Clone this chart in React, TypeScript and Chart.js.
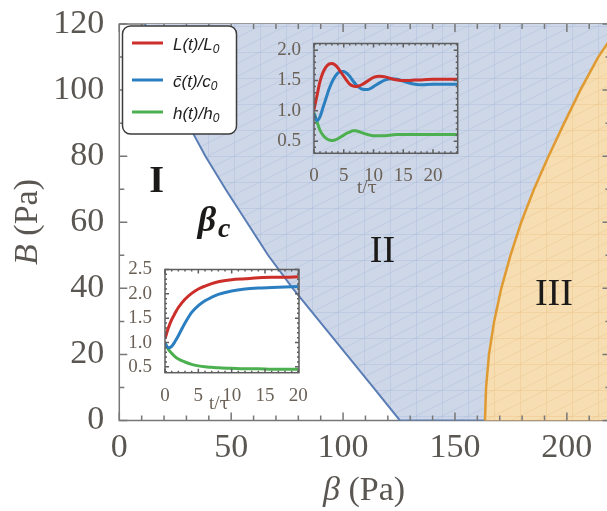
import React, { useEffect, useRef } from 'react';
import { Chart, registerables } from 'chart.js';

Chart.register(...registerables);

// ---------- main phase diagram ----------
const B_LEVELS = [0, 10, 20, 30, 40, 50, 60, 70, 80, 90, 100, 110, 120];
// beta_c boundary (region I | region II)
const BETA_C = [125.4, 113.5, 101.5, 89.5, 77.5, 66.5, 57, 47.5, 38.5, 30.5, 23.5, 17.5, 11.5];
// region II | region III boundary
const BETA_III = [163.4, 163.9, 165.2, 167.5, 170.7, 174.8, 179.6, 185.3, 191.8, 198.8, 206, 214, 224];
const BETA_FAR = 245;
const X_TICKS = [0, 50, 100, 150, 200];
const Y_TICKS = [0, 20, 40, 60, 80, 100, 120];
const REGION_TEXT = ['I', 'II', 'III'];
const REGION_AT = [[16.7, 72.1], [117.6, 51], [194.2, 37.9]];
const BETA_C_LABEL_AT = [41.9, 60.2];

// ---------- upper inset: damped oscillation ----------
const T_OSC = [0, 0.5, 1, 1.5, 2, 2.5, 3, 3.5, 4, 4.5, 5, 5.5, 6, 6.5, 7, 7.5, 8, 9, 10, 11, 12, 13, 14, 15, 16, 17, 18, 20, 22, 24.2];
const L_OSC = [1.02, 1.25, 1.48, 1.63, 1.72, 1.77, 1.78, 1.76, 1.71, 1.64, 1.57, 1.5, 1.44, 1.41, 1.4, 1.41, 1.43, 1.49, 1.55, 1.57, 1.56, 1.53, 1.51, 1.5, 1.5, 1.51, 1.51, 1.52, 1.52, 1.52];
const C_OSC = [0.95, 0.84, 0.9, 1.05, 1.2, 1.35, 1.47, 1.56, 1.62, 1.65, 1.65, 1.62, 1.57, 1.5, 1.44, 1.39, 1.36, 1.35, 1.4, 1.46, 1.51, 1.53, 1.52, 1.49, 1.46, 1.44, 1.43, 1.44, 1.44, 1.44];
const H_OSC = [0.97, 0.82, 0.68, 0.6, 0.55, 0.52, 0.51, 0.52, 0.54, 0.57, 0.6, 0.63, 0.65, 0.67, 0.67, 0.66, 0.64, 0.61, 0.59, 0.59, 0.59, 0.6, 0.61, 0.61, 0.61, 0.61, 0.61, 0.61, 0.61, 0.61];
const OSC_X_TICKS = [0, 5, 10, 15, 20];
const OSC_Y_TICKS = [0.5, 1.0, 1.5, 2.0];

// ---------- lower inset: monotone relaxation ----------
const T_MONO = [0, 0.5, 1, 1.5, 2, 3, 4, 5, 6, 7, 8, 10, 12, 14, 16, 18, 20];
const L_MONO = [1.08, 1.3, 1.47, 1.6, 1.72, 1.89, 2.01, 2.1, 2.16, 2.21, 2.25, 2.29, 2.31, 2.33, 2.34, 2.34, 2.35];
const C_MONO = [0.98, 0.89, 0.92, 1.02, 1.14, 1.4, 1.62, 1.76, 1.86, 1.93, 1.99, 2.06, 2.1, 2.12, 2.13, 2.14, 2.15];
const H_MONO = [0.98, 0.86, 0.78, 0.71, 0.66, 0.6, 0.55, 0.52, 0.5, 0.49, 0.48, 0.47, 0.46, 0.46, 0.45, 0.45, 0.45];
const MONO_X_TICKS = [0, 5, 10, 15, 20];
const MONO_Y_TICKS = [0.5, 1.0, 1.5, 2.0, 2.5];

const LEGEND_TEXT = [['L(t)/L', '0'], ['c\u0304(t)/c', '0'], ['h(t)/h', '0']];

const RED = '#cc2f2a';
const BLUE = '#2b7fc1';
const GREEN = '#4cb050';
const SERIES_COLORS = [RED, BLUE, GREEN];
const SERIF = "'Liberation Serif', 'DejaVu Serif', serif";
const GREEK_SERIF = "'DejaVu Serif', serif";
const SANS = "'Liberation Sans', 'DejaVu Sans', sans-serif";
const TICK_COLOR = '#5a5652';
const INSET_TICK_COLOR = '#6b6157';

function makePattern(bg: string, line: string) {
  const c = document.createElement('canvas');
  c.width = 26;
  c.height = 26;
  const g = c.getContext('2d')!;
  g.fillStyle = bg;
  g.fillRect(0, 0, 26, 26);
  g.strokeStyle = line;
  g.lineWidth = 0.7;
  g.beginPath();
  g.moveTo(0.5, 0); g.lineTo(0.5, 26);
  g.moveTo(0, 0.5); g.lineTo(26, 0.5);
  g.moveTo(0, 26); g.lineTo(26, 13);
  g.moveTo(0, 13); g.lineTo(26, 0);
  g.stroke();
  return g.createPattern(c, 'repeat')!;
}

type FrameCfg = {
  color: string; width: number;
  xMinor: number; xMajor: number; yMinor: number; yMajor: number;
  majorLen: number; minorLen: number; lineFirst?: boolean;
};

let pluginCounter = 0;
function framePlugin(cfg: FrameCfg) {
  const drawLines = (chart: any) => {
    const { ctx, chartArea: a } = chart;
    ctx.save();
    ctx.strokeStyle = cfg.color;
    ctx.lineWidth = cfg.width;
    ctx.strokeRect(a.left, a.top, a.right - a.left, a.bottom - a.top);
    ctx.restore();
  };
  const isMajor = (v: number, m: number) => Math.abs(v / m - Math.round(v / m)) < 1e-6;
  return {
    id: 'frame' + pluginCounter++,
    beforeDatasetsDraw(chart: any) {
      if (cfg.lineFirst) drawLines(chart);
    },
    afterDatasetsDraw(chart: any) {
      if (!cfg.lineFirst) drawLines(chart);
      const { ctx, chartArea: a, scales } = chart;
      const xs = scales.x;
      const ys = scales.y;
      ctx.save();
      ctx.strokeStyle = cfg.color;
      ctx.lineWidth = cfg.width;
      ctx.beginPath();
      for (let k = Math.ceil(xs.min / cfg.xMinor - 1e-6); k * cfg.xMinor <= xs.max + 1e-6; k++) {
        const v = k * cfg.xMinor;
        const len = isMajor(v, cfg.xMajor) ? cfg.majorLen : cfg.minorLen;
        const px = xs.getPixelForValue(v);
        ctx.moveTo(px, a.bottom); ctx.lineTo(px, a.bottom - len);
        ctx.moveTo(px, a.top); ctx.lineTo(px, a.top + len);
      }
      for (let k = Math.ceil(ys.min / cfg.yMinor - 1e-6); k * cfg.yMinor <= ys.max + 1e-6; k++) {
        const v = k * cfg.yMinor;
        const len = isMajor(v, cfg.yMajor) ? cfg.majorLen : cfg.minorLen;
        const py = ys.getPixelForValue(v);
        ctx.moveTo(a.left, py); ctx.lineTo(a.left + len, py);
        ctx.moveTo(a.right, py); ctx.lineTo(a.right - len, py);
      }
      ctx.stroke();
      ctx.restore();
    },
  };
}

const mainTextPlugin = {
  id: 'mainText',
  afterDatasetsDraw(chart: any) {
    const { ctx, scales } = chart;
    const xs = scales.x;
    const ys = scales.y;
    ctx.save();
    ctx.fillStyle = '#1c1a18';
    ctx.textBaseline = 'middle';
    ctx.textAlign = 'center';
    REGION_TEXT.forEach((t, i) => {
      ctx.font = (i === 0 ? 'bold ' : '') + '38px ' + SERIF;
      ctx.fillText(t, xs.getPixelForValue(REGION_AT[i][0]), ys.getPixelForValue(REGION_AT[i][1]));
    });
    // beta_c
    const bx = xs.getPixelForValue(BETA_C_LABEL_AT[0]);
    const by = ys.getPixelForValue(BETA_C_LABEL_AT[1]);
    ctx.font = 'italic bold 36px ' + SERIF;
    const wb = ctx.measureText('\u03b2').width;
    ctx.font = 'italic bold 28px ' + SERIF;
    const wc = ctx.measureText('c').width;
    const start = bx - (wb + wc) / 2 + 4;
    ctx.textAlign = 'left';
    ctx.font = 'italic bold 36px ' + SERIF;
    ctx.fillText('\u03b2', start - 4, by);
    ctx.font = 'italic bold 28px ' + SERIF;
    ctx.fillText('c', start + wb - 2, by + 8);
    ctx.restore();
  },
  afterDraw(chart: any) {
    const { ctx } = chart;
    ctx.save();
    ctx.fillStyle = TICK_COLOR;
    ctx.textBaseline = 'middle';
    // x title
    ctx.font = 'italic 34px ' + SERIF;
    const w1 = ctx.measureText('\u03b2').width;
    ctx.font = '34px ' + SERIF;
    const w2 = ctx.measureText(' (Pa)').width;
    let sx = 364 - (w1 + w2) / 2;
    ctx.textAlign = 'left';
    ctx.font = 'italic 34px ' + SERIF;
    ctx.fillText('\u03b2', sx, 491);
    ctx.font = '34px ' + SERIF;
    ctx.fillText(' (Pa)', sx + w1, 491);
    // y title
    ctx.translate(28, 222);
    ctx.rotate(-Math.PI / 2);
    ctx.font = 'italic 34px ' + SERIF;
    const w3 = ctx.measureText('B').width;
    ctx.font = '34px ' + SERIF;
    const w4 = ctx.measureText(' (Pa)').width;
    sx = -(w3 + w4) / 2;
    ctx.font = 'italic 34px ' + SERIF;
    ctx.fillText('B', sx, 0);
    ctx.font = '34px ' + SERIF;
    ctx.fillText(' (Pa)', sx + w3, 0);
    ctx.restore();

    // legend box
    ctx.save();
    ctx.beginPath();
    (ctx as any).roundRect(122.5, 26, 114, 108, 8);
    ctx.fillStyle = '#ffffff';
    ctx.fill();
    ctx.lineWidth = 1.5;
    ctx.strokeStyle = '#3c3c3c';
    ctx.stroke();
    const rows = [43, 80, 112];
    LEGEND_TEXT.forEach((parts, i) => {
      const y = rows[i];
      ctx.strokeStyle = SERIES_COLORS[i];
      ctx.lineWidth = 3;
      ctx.beginPath();
      ctx.moveTo(132, y);
      ctx.lineTo(163, y);
      ctx.stroke();
      ctx.fillStyle = '#222222';
      ctx.textBaseline = 'alphabetic';
      ctx.textAlign = 'left';
      ctx.font = 'italic 17px ' + SANS;
      ctx.fillText(parts[0], 173, y + 6.5);
      const w = ctx.measureText(parts[0]).width;
      ctx.font = 'italic 12px ' + SANS;
      ctx.fillText(parts[1], 173 + w, y + 10);
    });
    ctx.restore();
  },
};

function buildMain(canvas: HTMLCanvasElement) {
  const blueFill = makePattern('rgb(205,215,232)', 'rgba(160,180,216,0.45)');
  const orangeFill = makePattern('rgb(247,222,178)', 'rgba(232,192,125,0.5)');
  const blueRegion = B_LEVELS.map((b, i) => ({ x: BETA_C[i], y: b })).reverse();
  blueRegion.push({ x: BETA_III[0], y: 0 }, { x: BETA_FAR, y: 0 });
  const orangeRegion = B_LEVELS.map((b, i) => ({ x: BETA_III[i], y: b }));
  orangeRegion.push({ x: BETA_FAR, y: B_LEVELS[B_LEVELS.length - 1] });
  const top = B_LEVELS[B_LEVELS.length - 1];
  const tickFont = { family: SERIF, size: 34, lineHeight: 1 };
  return new Chart(canvas, {
    type: 'line',
    data: {
      datasets: [
        { data: orangeRegion, fill: 'start', backgroundColor: orangeFill, borderColor: '#e09a32', borderWidth: 2.5, pointRadius: 0, tension: 0 },
        { data: [{ x: BETA_III[0], y: 0 }, { x: BETA_FAR, y: 0 }], fill: false, borderColor: '#e09a32', borderWidth: 2.5, pointRadius: 0 },
        { data: blueRegion, fill: 'end', backgroundColor: blueFill, borderColor: '#5a7db6', borderWidth: 2, pointRadius: 0, tension: 0 },
        { data: [{ x: BETA_C[BETA_C.length - 1], y: top }, { x: BETA_FAR, y: top }], fill: false, borderColor: '#5a7db6', borderWidth: 2.5, pointRadius: 0 },
      ] as any,
    },
    options: {
      responsive: false,
      animation: false,
      devicePixelRatio: 1,
      events: [],
      layout: { padding: { top: 23, right: 1.5, left: 0, bottom: 0 } },
      plugins: { legend: { display: false }, tooltip: { enabled: false } },
      scales: {
        x: {
          type: 'linear', min: 0, max: 219.5,
          grid: { display: false }, border: { display: false },
          ticks: { font: tickFont, color: TICK_COLOR, padding: 3, maxRotation: 0, autoSkip: false, callback: (v: any) => String(v) },
          afterBuildTicks: (s: any) => { s.ticks = X_TICKS.map((v) => ({ value: v })); },
          afterFit: (s: any) => { s.height = 90.5; },
        },
        y: {
          type: 'linear', min: 0, max: 120,
          grid: { display: false }, border: { display: false },
          ticks: { font: tickFont, color: TICK_COLOR, padding: 7, autoSkip: false, callback: (v: any) => String(v) },
          afterBuildTicks: (s: any) => { s.ticks = Y_TICKS.map((v) => ({ value: v })); },
          afterFit: (s: any) => { s.width = 119.3; },
        },
      },
    } as any,
    plugins: [
      framePlugin({ color: '#777777', width: 1.5, xMinor: 10, xMajor: 50, yMinor: 10, yMajor: 20, majorLen: 8, minorLen: 5, lineFirst: true }),
      mainTextPlugin,
    ],
  });
}

type InsetCfg = {
  t: number[]; l: number[]; c: number[]; h: number[];
  xTicks: number[]; yTicks: number[];
  xMin: number; xMax: number; yMin: number; yMax: number;
  pad: { top: number; right: number }; yAxisW: number; xAxisH: number;
  titleAt: [number, number];
};

function buildInset(canvas: HTMLCanvasElement, cfg: InsetCfg) {
  const mk = (vals: number[], color: string) => ({
    data: cfg.t.map((t, i) => ({ x: t, y: vals[i] })),
    borderColor: color, borderWidth: 3, pointRadius: 0, fill: false,
    cubicInterpolationMode: 'monotone',
  });
  const tickFont = { family: SERIF, size: 19, lineHeight: 1 };
  const titlePlugin = {
    id: 'insetTitle' + pluginCounter++,
    afterDraw(chart: any) {
      const { ctx } = chart;
      ctx.save();
      ctx.fillStyle = INSET_TICK_COLOR;
      ctx.textBaseline = 'middle';
      ctx.textAlign = 'left';
      ctx.font = '19px ' + SERIF;
      const a = ctx.measureText('t/').width;
      ctx.font = '17px ' + GREEK_SERIF;
      const b = ctx.measureText('\u03c4').width;
      const x0 = cfg.titleAt[0] - (a + b) / 2;
      ctx.font = '19px ' + SERIF;
      ctx.fillText('t/', x0, cfg.titleAt[1]);
      ctx.font = '17px ' + GREEK_SERIF;
      ctx.fillText('\u03c4', x0 + a, cfg.titleAt[1] + 1);
      ctx.restore();
    },
  };
  return new Chart(canvas, {
    type: 'line',
    data: { datasets: [mk(cfg.l, RED), mk(cfg.c, BLUE), mk(cfg.h, GREEN)] as any },
    options: {
      responsive: false,
      animation: false,
      devicePixelRatio: 1,
      events: [],
      layout: { padding: { top: cfg.pad.top, right: cfg.pad.right, left: 0, bottom: 0 } },
      plugins: { legend: { display: false }, tooltip: { enabled: false } },
      scales: {
        x: {
          type: 'linear', min: cfg.xMin, max: cfg.xMax,
          grid: { display: false }, border: { display: false },
          ticks: { font: tickFont, color: INSET_TICK_COLOR, padding: 5.5, maxRotation: 0, autoSkip: false, callback: (v: any) => String(v) },
          afterBuildTicks: (s: any) => { s.ticks = cfg.xTicks.map((v) => ({ value: v })); },
          afterFit: (s: any) => { s.height = cfg.xAxisH; },
        },
        y: {
          type: 'linear', min: cfg.yMin, max: cfg.yMax,
          grid: { display: false }, border: { display: false },
          ticks: { font: tickFont, color: INSET_TICK_COLOR, padding: 5, autoSkip: false, callback: (v: any) => Number(v).toFixed(1) },
          afterBuildTicks: (s: any) => { s.ticks = cfg.yTicks.map((v) => ({ value: v })); },
          afterFit: (s: any) => { s.width = cfg.yAxisW; },
        },
      },
    } as any,
    plugins: [
      framePlugin({ color: '#5e5e5e', width: 1.5, xMinor: 1, xMajor: 5, yMinor: 0.1, yMajor: 0.5, majorLen: 4, minorLen: 2 }),
      titlePlugin,
    ],
  });
}

export default function App() {
  const mainRef = useRef<HTMLCanvasElement>(null);
  const oscRef = useRef<HTMLCanvasElement>(null);
  const monoRef = useRef<HTMLCanvasElement>(null);

  useEffect(() => {
    const charts = [
      buildMain(mainRef.current!),
      buildInset(oscRef.current!, {
        t: T_OSC, l: L_OSC, c: C_OSC, h: H_OSC,
        xTicks: OSC_X_TICKS, yTicks: OSC_Y_TICKS,
        xMin: 0, xMax: 24.15, yMin: 0.3, yMax: 2.11,
        pad: { top: 10.3, right: 2.3 }, yAxisW: 44, xAxisH: 47.7,
        titleAt: [97, 159],
      }),
      buildInset(monoRef.current!, {
        t: T_MONO, l: L_MONO, c: C_MONO, h: H_MONO,
        xTicks: MONO_X_TICKS, yTicks: MONO_Y_TICKS,
        xMin: 0, xMax: 20.1, yMin: 0.38, yMax: 2.5,
        pad: { top: 12, right: 16 }, yAxisW: 45, xAxisH: 42.3,
        titleAt: [99, 149],
      }),
    ];
    return () => charts.forEach((c) => c.destroy());
  }, []);

  return (
    <div style={{ position: 'fixed', left: 0, top: 0, width: 607, height: 511, overflow: 'hidden', background: '#ffffff' }}>
      <canvas ref={mainRef} width={612} height={511} style={{ position: 'absolute', left: 0, top: 0, width: 612, height: 511 }} />
      <canvas ref={oscRef} width={190} height={172} style={{ position: 'absolute', left: 270, top: 29, width: 190, height: 172 }} />
      <canvas ref={monoRef} width={195} height={160} style={{ position: 'absolute', left: 120, top: 255, width: 195, height: 160 }} />
    </div>
  );
}
